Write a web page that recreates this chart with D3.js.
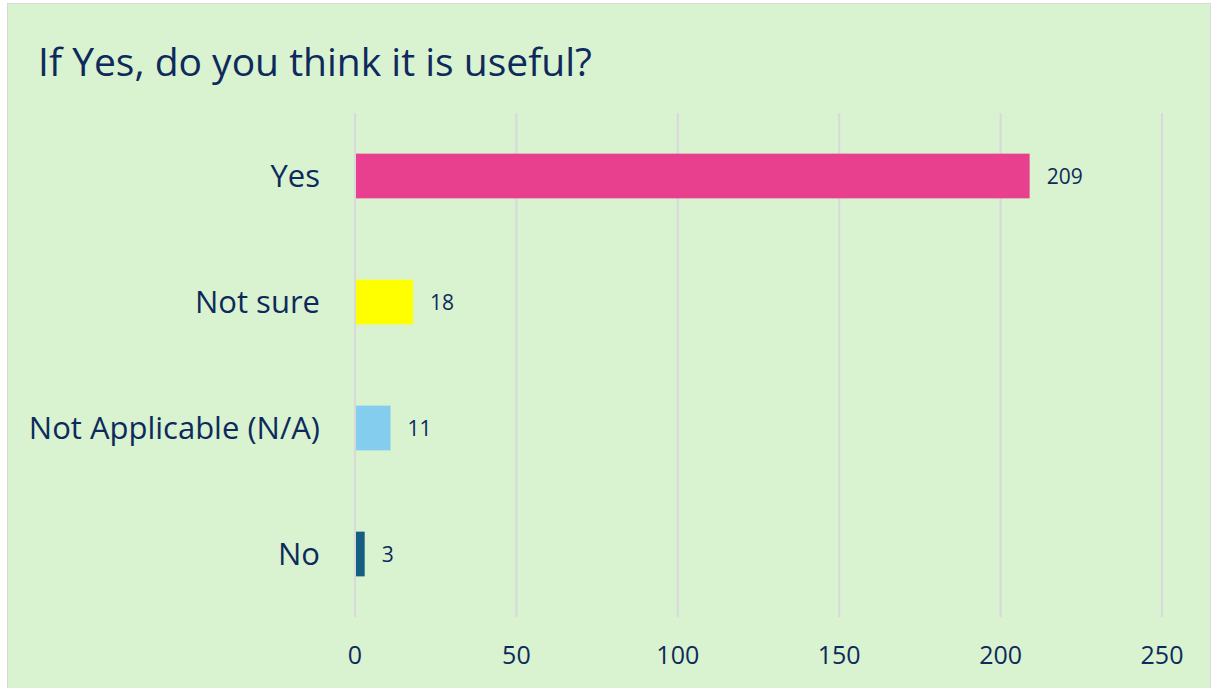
<!DOCTYPE html>
<html><head><meta charset="utf-8">
<script src="https://cdn.jsdelivr.net/npm/d3@7"></script>
<style>
html,body{margin:0;padding:0;background:#fff;}
svg{display:block;}
text{font-family:"Open Sans","Noto Sans",sans-serif;}
</style></head>
<body>
<svg id="c" width="1214" height="688"></svg>
<script>
const categories = ["Yes", "Not sure", "Not Applicable (N/A)", "No"];
const values = [209, 18, 11, 3];
const barColors = ["#e8408f", "#ffff00", "#85cdee", "#135e81"];
const tickValues = [0, 50, 100, 150, 200, 250];
const title = "If Yes, do you think it is useful?";

const svg = d3.select("#c");
const navy = "#0e2a5c";

svg.append("rect").attr("x", 7.5).attr("y", 3.5).attr("width", 1203).attr("height", 690)
  .attr("fill", "#d9f2d0").attr("stroke", "#d9d9d9").attr("stroke-width", 1);

svg.append("text").attr("x", 38).attr("y", 76).attr("fill", navy)
  .attr("font-size", 39).text(title);

const plotTop = 113, plotBottom = 617;
const x = d3.scaleLinear().domain([0, 250]).range([355, 1162]);
const y = d3.scaleBand().domain(categories).range([plotTop, plotBottom]).paddingInner(0.645).paddingOuter(0.3225);

svg.append("g").selectAll("line").data(tickValues).join("line")
  .attr("x1", d => x(d)).attr("x2", d => x(d)).attr("y1", plotTop).attr("y2", plotBottom)
  .attr("stroke", "#d9d9d9").attr("stroke-width", 2);

svg.append("g").selectAll("rect").data(categories).join("rect")
  .attr("x", x(0) + 1).attr("y", d => y(d))
  .attr("width", (d, i) => x(values[i]) - x(0) - 1).attr("height", y.bandwidth())
  .attr("fill", (d, i) => barColors[i]);

svg.append("g").selectAll("text").data(categories).join("text")
  .attr("x", (d, i) => x(values[i]) + 17).attr("y", d => y(d) + y.bandwidth() / 2)
  .attr("dy", "0.36em").attr("fill", navy).attr("font-size", 21)
  .text((d, i) => values[i]);

svg.append("g").selectAll("text").data(categories).join("text")
  .attr("x", 320).attr("y", d => y(d) + y.bandwidth() / 2)
  .attr("dy", "0.36em").attr("text-anchor", "end").attr("fill", navy).attr("font-size", 31)
  .text(d => d);

svg.append("g").selectAll("text").data(tickValues).join("text")
  .attr("x", d => x(d)).attr("y", 655).attr("dy", "0.36em")
  .attr("text-anchor", "middle").attr("fill", navy).attr("font-size", 25)
  .text(d => d);
</script>
</body></html>
